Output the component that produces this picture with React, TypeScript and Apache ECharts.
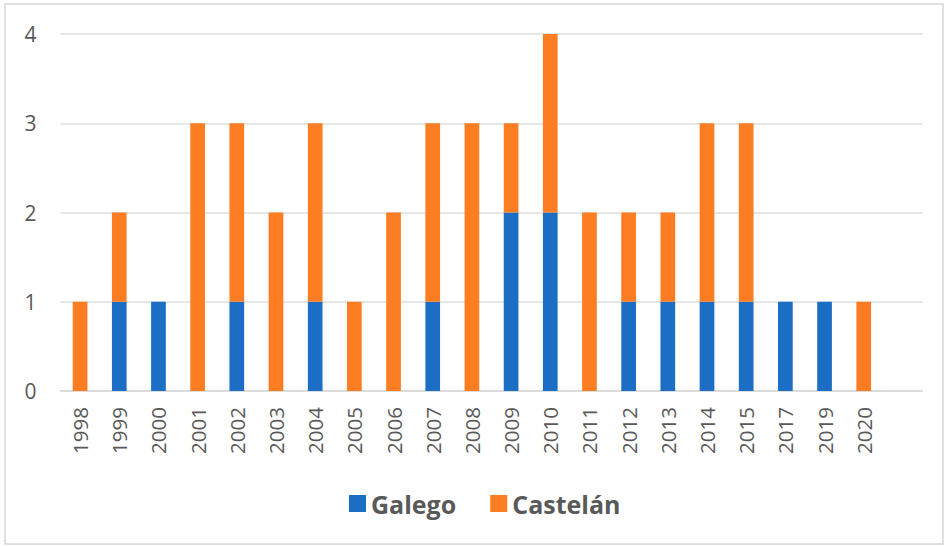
import React, { useEffect, useRef } from "react";
import * as echarts from "echarts";

const years = ["1998","1999","2000","2001","2002","2003","2004","2005","2006","2007","2008","2009","2010","2011","2012","2013","2014","2015","2017","2019","2020",""];
const galego =   [0,1,1,0,1,0,1,0,0,1,0,2,2,0,1,1,1,1,1,1,0,0];
const castelan = [1,1,0,3,2,2,2,1,2,2,3,1,2,2,1,1,2,2,0,0,1,0];
const yTicks = [0, 1, 2, 3, 4];

const BLUE = "#1b6ec3";
const ORANGE = "#fd7d22";
const TEXT = "#595959";
const FONT = "'Open Sans', 'Noto Sans', sans-serif";

export default function App() {
  const ref = useRef<HTMLDivElement>(null);
  useEffect(() => {
    if (!ref.current) return;
    const chart = echarts.init(ref.current, null, { renderer: "svg" });
    chart.setOption({
      animation: false,
      backgroundColor: "#ffffff",
      graphic: [
        {
          type: "rect",
          shape: { x: 5, y: 4, width: 938, height: 540 },
          style: { fill: "none", stroke: "#d6d6d6", lineWidth: 1.5 },
          silent: true,
        },
      ],
      grid: { left: 60.5, right: 23.5, top: 34, bottom: 155, containLabel: false },
      legend: {
        top: 486,
        left: 344,
        itemWidth: 17,
        itemHeight: 17,
        itemGap: 34,
        icon: "rect",
        textStyle: { color: TEXT, fontSize: 25, fontWeight: "bold", fontFamily: FONT },
        data: ["Galego", "Castelán"],
      },
      xAxis: {
        type: "category",
        data: years,
        axisLine: { show: true, lineStyle: { color: "#d9d9d9", width: 1.5 } },
        axisTick: { show: false },
        axisLabel: {
          rotate: 90,
          color: TEXT,
          fontSize: 20.5,
          fontFamily: FONT,
          margin: 16,
          interval: 0,
        },
      },
      yAxis: {
        type: "value",
        min: yTicks[0],
        max: yTicks[yTicks.length - 1],
        interval: 1,
        axisLine: { show: false },
        axisTick: { show: false },
        splitLine: { lineStyle: { color: "#dedede", width: 1.5 } },
        axisLabel: { color: TEXT, fontSize: 21, fontFamily: FONT, margin: 24 },
      },
      series: [
        {
          name: "Galego",
          type: "bar",
          stack: "total",
          data: galego,
          barWidth: "37.5%",
          itemStyle: { color: BLUE },
        },
        {
          name: "Castelán",
          type: "bar",
          stack: "total",
          data: castelan,
          barWidth: "37.5%",
          itemStyle: { color: ORANGE },
        },
      ],
    });
    return () => chart.dispose();
  }, []);
  return <div ref={ref} style={{ width: 946, height: 546, position: "absolute", left: 0, top: 0 }} />;
}
